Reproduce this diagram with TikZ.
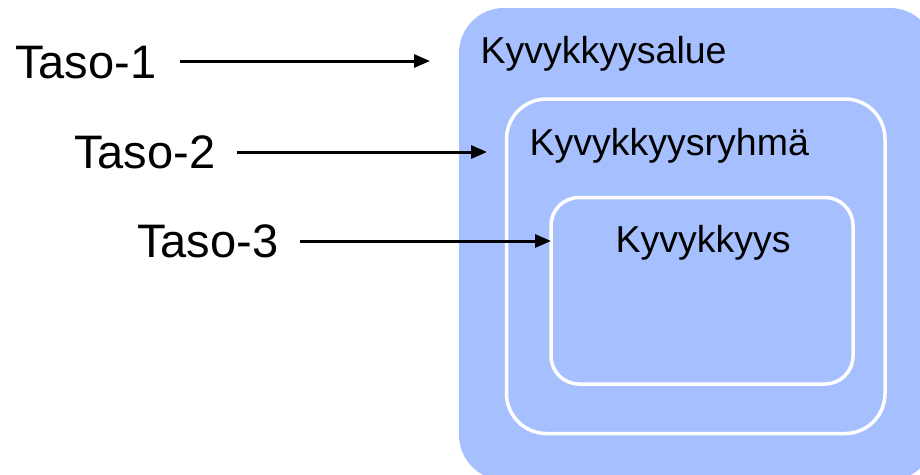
\documentclass[tikz,border=0pt]{standalone}
\usepackage{fontspec}
\setmainfont{Liberation Sans}
\usetikzlibrary{arrows.meta}
\definecolor{boxblue}{RGB}{166,191,255}
\tikzset{
  tasolabel/.style={anchor=base west,inner sep=0pt,font=\fontsize{47}{50}\selectfont},
  boxlabel/.style={anchor=base west,inner sep=0pt,font=\fontsize{37.5}{40}\selectfont},
  levelarrow/.style={line width=3pt,-{Triangle[length=16pt,width=13pt]}},
  innerbox/.style={draw=white,line width=3.5pt,fill=boxblue}
}
\begin{document}
\begin{tikzpicture}[x=1pt,y=-1pt]
\useasboundingbox (0,0) rectangle (920,474);
% boxes
\fill[boxblue,rounded corners=45pt] (459,8) rectangle (935,480);
\path[innerbox,rounded corners=40pt] (506.5,99) rectangle (885,433.5);
\path[innerbox,rounded corners=28pt] (551,197.5) rectangle (853,384);
% labels in boxes
\node[boxlabel] (k1) at (480.5,63) {Kyvykkyysalue};
\node[boxlabel] (k2) at (529.5,155) {Kyvykkyysryhmä};
\node[boxlabel] (k3) at (615.5,252) {Kyvykkyys};
% level labels
\node[tasolabel] (t1) at (15,78) {Taso-1};
\node[tasolabel] (t2) at (74,168) {Taso-2};
\node[tasolabel] (t3) at (137,257) {Taso-3};
% arrow end points
\coordinate (a1s) at (180,61);
\coordinate (a1e) at (430,61);
\coordinate (a2s) at (237,152);
\coordinate (a2e) at (487,152);
\coordinate (a3s) at (300,241);
\coordinate (a3e) at (551,241);
\draw[levelarrow] (a1s) -- (a1e);
\draw[levelarrow] (a2s) -- (a2e);
\draw[levelarrow] (a3s) -- (a3e);
\end{tikzpicture}
\end{document}
